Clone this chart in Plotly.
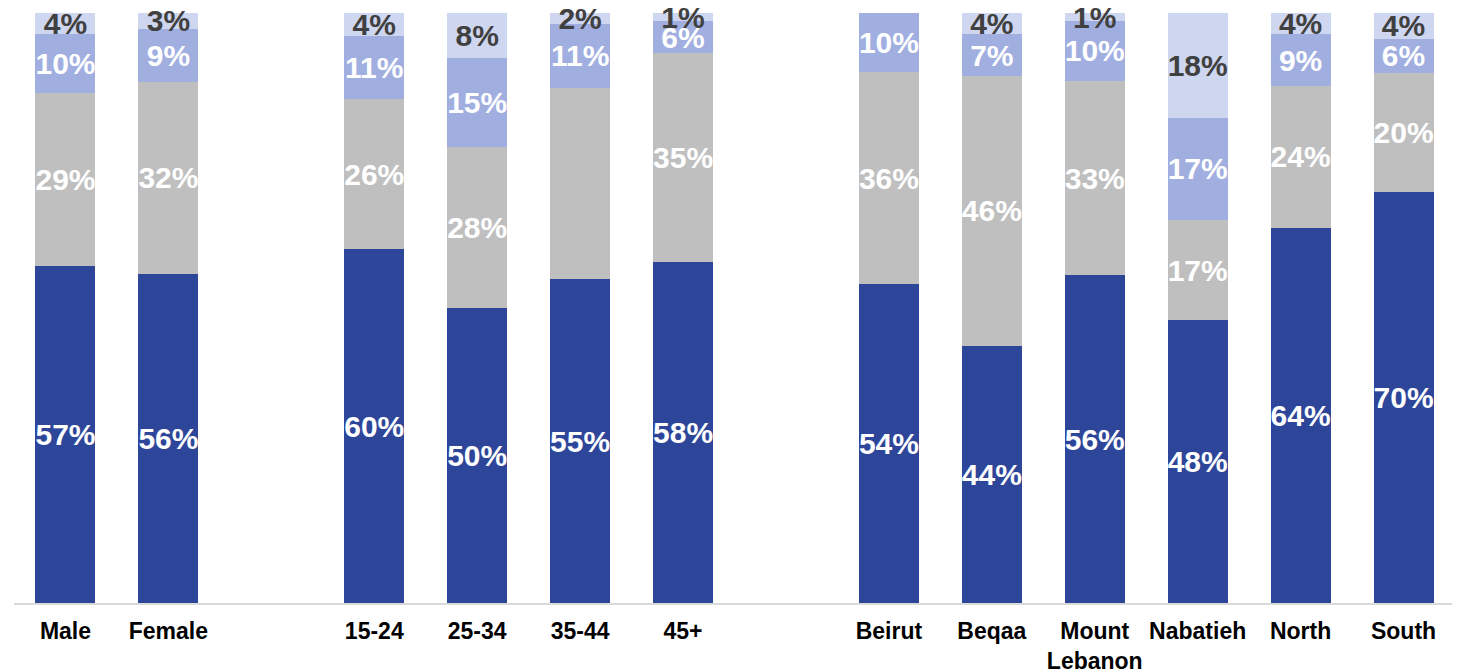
import plotly.graph_objects as go

# slot positions (2 and 7 are empty spacer slots)
positions = [0, 1, 3, 4, 5, 6, 8, 9, 10, 11, 12, 13]
categories = ['Male', 'Female', '15-24', '25-34', '35-44', '45+',
              'Beirut', 'Beqaa', 'Mount<br>Lebanon', 'Nabatieh', 'North', 'South']

# segment values (%)
seg1 = [57.1, 55.8, 59.9, 49.9, 54.8, 57.7, 54.0, 43.6, 55.5, 47.9, 63.6, 69.6]
seg2 = [29.3, 32.4, 25.5, 27.4, 32.5, 35.4, 35.9, 45.7, 32.9, 17.0, 23.9, 20.2]
seg3 = [10.0, 9.0, 10.6, 15.0, 10.7, 5.5, 10.1, 7.0, 10.2, 17.3, 8.9, 5.8]
seg4 = [3.6, 2.8, 4.0, 7.7, 2.0, 1.3, 0.0, 3.6, 1.3, 17.7, 3.6, 4.4]

# printed labels
lab1 = ['57%', '56%', '60%', '50%', '55%', '58%', '54%', '44%', '56%', '48%', '64%', '70%']
lab2 = ['29%', '32%', '26%', '28%', '', '35%', '36%', '46%', '33%', '17%', '24%', '20%']
lab3 = ['10%', '9%', '11%', '15%', '11%', '6%', '10%', '7%', '10%', '17%', '9%', '6%']
lab4 = ['4%', '3%', '4%', '8%', '2%', '1%', '', '4%', '1%', '18%', '4%', '4%']

series = [
    (seg1, lab1, '#2E4699', 'white'),
    (seg2, lab2, '#BFBFBF', 'white'),
    (seg3, lab3, '#A0AEE0', 'white'),
    (seg4, lab4, '#CFD7F0', '#404040'),
]

fig = go.Figure()
for vals, labels, color, tcolor in series:
    fig.add_trace(go.Bar(
        x=positions,
        y=vals,
        text=labels,
        textposition='inside',
        insidetextanchor='middle',
        constraintext='none',
        textangle=0,
        textfont=dict(family='Liberation Sans, Arial', size=30, color=tcolor, weight='bold'),
        marker=dict(color=color, line=dict(width=0)),
        cliponaxis=False,
        showlegend=False,
        hoverinfo='skip',
    ))

# page has an 8px body margin, so the figure is sized/margined to compensate
fig.update_layout(
    barmode='stack',
    bargap=0.417,
    width=1452,
    height=663,
    plot_bgcolor='white',
    paper_bgcolor='white',
    margin=dict(l=6, r=5, t=4, b=68, autoexpand=False),
    font_family='Liberation Sans, Arial, sans-serif',
    xaxis=dict(
        range=[-0.5, 13.5],
        tickvals=positions,
        ticktext=['<b>%s</b>' % c for c in categories],
        tickfont=dict(size=23, color='black'),
        showgrid=False,
        zeroline=False,
        showline=True,
        linecolor='#D9D9D9',
        linewidth=2,
        ticks='',
        ticklabelstandoff=6,
        automargin=False,
    ),
    yaxis=dict(
        range=[0, 100.1],
        visible=False,
        showgrid=False,
        zeroline=False,
        automargin=False,
    ),
)

fig.write_html("out.html")
